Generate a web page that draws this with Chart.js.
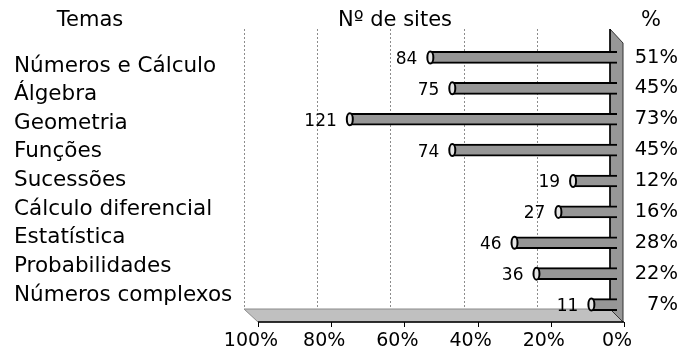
<!DOCTYPE html>
<html>
<head>
<meta charset="utf-8">
<script src="https://cdn.jsdelivr.net/npm/chart.js@4/dist/chart.umd.min.js"></script>
<style>
  html, body { margin: 0; padding: 0; background: #fff; }
  #wrap { width: 681px; height: 349px; }
</style>
</head>
<body>
<div id="wrap"><canvas id="c" width="681" height="349"></canvas></div>
<script>
// Temas
const categories = [
  'Números e Cálculo',
  'Álgebra',
  'Geometria',
  'Funções',
  'Sucessões',
  'Cálculo diferencial',
  'Estatística',
  'Probabilidades',
  'Números complexos'
];
// Nº de sites por tema
const siteCounts = [84, 75, 121, 74, 19, 27, 46, 36, 11];
// Percentagem de sites por tema
const sharePct = [51, 45, 73, 45, 12, 16, 28, 22, 7];
// Etiquetas do eixo das percentagens (0% .. 100%)
const axisTicks = [0, 20, 40, 60, 80, 100];

const pctLabels = sharePct.map(v => v + '%');
const FONT = 'DejaVu Sans';
const DEPTH = 7; // half of the 3D depth offset, in px

const decor3d = {
  id: 'decor3d',
  beforeDatasetsDraw(chart) {
    const ctx = chart.ctx;
    const x = chart.scales.x;
    const area = chart.chartArea;
    const top = 29, floorTop = area.bottom - 11, floorBot = area.bottom + 2;
    const x0 = x.getPixelForValue(0), x100 = x.getPixelForValue(100);
    ctx.save();
    // back gridlines
    ctx.strokeStyle = '#8c8c8c';
    ctx.lineWidth = 1;
    ctx.setLineDash([2, 2]);
    axisTicks.filter(v => v > 0).forEach(v => {
      const px = Math.round(x.getPixelForValue(v) - DEPTH) + 0.5;
      ctx.beginPath();
      ctx.moveTo(px, top);
      ctx.lineTo(px, floorTop);
      ctx.stroke();
    });
    ctx.setLineDash([]);
    // floor
    ctx.beginPath();
    ctx.moveTo(x100 - DEPTH, floorTop);
    ctx.lineTo(x0 - DEPTH, floorTop);
    ctx.lineTo(x0 + DEPTH - 1, floorBot);
    ctx.lineTo(x100 + DEPTH, floorBot);
    ctx.closePath();
    ctx.fillStyle = '#c0c0c0';
    ctx.fill();
    ctx.strokeStyle = '#8a8a8a';
    ctx.stroke();
    // side wall at 0%
    ctx.beginPath();
    ctx.moveTo(x0 - DEPTH, top);
    ctx.lineTo(x0 + DEPTH - 1, top + 14);
    ctx.lineTo(x0 + DEPTH - 1, floorBot);
    ctx.lineTo(x0 - DEPTH, floorTop);
    ctx.closePath();
    ctx.fillStyle = '#979797';
    ctx.fill();
    ctx.strokeStyle = '#333';
    ctx.stroke();
    ctx.beginPath();
    ctx.strokeStyle = '#000';
    ctx.lineWidth = 1.5;
    ctx.moveTo(x0 - DEPTH, top);
    ctx.lineTo(x0 - DEPTH, floorTop);
    ctx.stroke();
    // axis line and tick marks (front plane)
    ctx.lineWidth = 1.5;
    ctx.strokeStyle = '#000';
    ctx.beginPath();
    ctx.moveTo(x100 + DEPTH, floorBot);
    ctx.lineTo(x0 + DEPTH, floorBot);
    ctx.stroke();
    ctx.lineWidth = 1;
    axisTicks.forEach(v => {
      const px = Math.round(x.getPixelForValue(v) + DEPTH) + 0.5;
      ctx.beginPath();
      ctx.moveTo(px, floorBot);
      ctx.lineTo(px, floorBot + 5);
      ctx.stroke();
    });
    ctx.restore();
  },
  afterDatasetsDraw(chart) {
    const ctx = chart.ctx;
    const meta = chart.getDatasetMeta(0);
    ctx.save();
    meta.data.forEach((bar, i) => {
      const h = bar.height;
      // cylinder end cap
      ctx.beginPath();
      ctx.ellipse(bar.x, bar.y, 3, h / 2, 0, 0, Math.PI * 2);
      ctx.fillStyle = '#e6e6e6';
      ctx.fill();
      ctx.lineWidth = 2;
      ctx.strokeStyle = '#000';
      ctx.stroke();
      // count label
      ctx.fillStyle = '#000';
      ctx.font = '17px "' + FONT + '"';
      ctx.textAlign = 'right';
      ctx.textBaseline = 'middle';
      ctx.fillText(String(siteCounts[i]), bar.x - 13, bar.y + 2);
    });
    ctx.restore();
  },
  afterDraw(chart) {
    const ctx = chart.ctx;
    ctx.save();
    ctx.fillStyle = '#000';
    ctx.font = '21px "' + FONT + '"';
    ctx.textAlign = 'center';
    ctx.textBaseline = 'middle';
    ctx.fillText('Temas', 90, 21);
    ctx.fillText('Nº de sites', 395, 21);
    ctx.fillText('%', 651, 21);
    ctx.restore();
  }
};

new Chart(document.getElementById('c'), {
  type: 'bar',
  data: {
    labels: categories,
    datasets: [{
      data: sharePct,
      xAxisID: 'x',
      yAxisID: 'yPct',
      backgroundColor: '#969696',
      borderColor: '#000',
      borderWidth: { top: 2, bottom: 2, left: 0, right: 0 },
      borderSkipped: false,
      barThickness: 12
    }]
  },
  options: {
    indexAxis: 'y',
    responsive: false,
    animation: false,
    devicePixelRatio: 1,
    layout: { padding: { left: 14, right: 3, top: 42, bottom: 0 } },
    plugins: { legend: { display: false }, tooltip: { enabled: false } },
    scales: {
      x: {
        type: 'linear',
        position: 'bottom',
        reverse: true,
        min: 0,
        max: 100,
        bounds: 'data',
        afterBuildTicks: s => { s.ticks = axisTicks.map(v => ({ value: v })); },
        afterFit: s => { s.height = 29; },
        grid: { display: false, drawTicks: false },
        border: { display: false },
        ticks: {
          callback: v => v + '%',
          padding: 10,
          maxRotation: 0,
          autoSkip: false,
          color: '#000',
          font: { family: FONT, size: 19 }
        }
      },
      yCat: {
        type: 'linear',
        position: 'left',
        reverse: true,
        bounds: 'data',
        offset: false,
        grace: 0,
        min: -0.838,
        max: 8.873,
        afterBuildTicks: s => { s.ticks = categories.map((_, i) => ({ value: i })); },
        afterFit: s => { s.width = 237; },
        grid: { display: false, drawTicks: false, offset: false },
        border: { display: false },
        ticks: {
          callback: v => categories[v],
          crossAlign: 'far',
          autoSkip: false,
          padding: 0,
          color: '#000',
          font: { family: FONT, size: 21.5 }
        }
      },
      yPct: {
        type: 'category',
        position: 'right',
        labels: pctLabels,
        offset: true,
        afterFit: s => { s.width = 61; },
        grid: { display: false, drawTicks: false },
        border: { display: false },
        ticks: {
          crossAlign: 'far',
          autoSkip: false,
          padding: 0,
          color: '#000',
          font: { family: FONT, size: 19.5 }
        }
      }
    }
  },
  plugins: [decor3d]
});
</script>
</body>
</html>
